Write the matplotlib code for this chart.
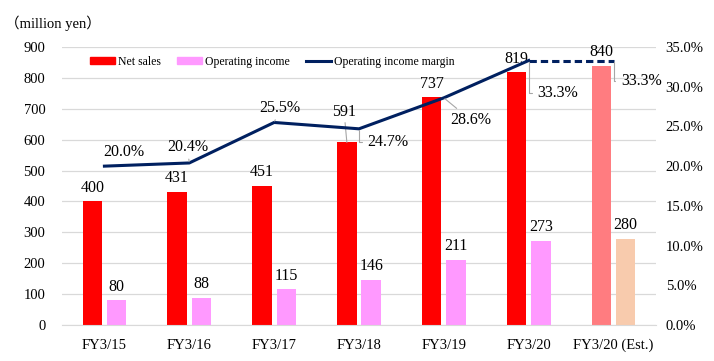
import matplotlib
matplotlib.use("Agg")
import matplotlib.pyplot as plt
from matplotlib.patches import Patch
from matplotlib.lines import Line2D
from matplotlib.ticker import PercentFormatter

# data
categories = ['FY3/15', 'FY3/16', 'FY3/17', 'FY3/18', 'FY3/19', 'FY3/20', 'FY3/20 (Est.)']
net_sales = [400, 431, 451, 591, 737, 819, 840]
op_income = [80, 88, 115, 146, 211, 273, 280]
op_margin = [0.200, 0.204, 0.255, 0.247, 0.286, 0.333, 0.333]
margin_labels = ['20.0%', '20.4%', '25.5%', '24.7%', '28.6%', '33.3%', '33.3%']

plt.rcParams['font.family'] = ['Liberation Serif', 'DejaVu Serif']

RED, PINK = '#FF0000', '#FF99FF'
RED_EST, PINK_EST = '#FF7C80', '#F8CBAD'
NAVY = '#002060'
GRID = '#D9D9D9'
LEADER = '#A6A6A6'

fig = plt.figure(figsize=(7.14, 3.61), dpi=100)
ax = fig.add_axes([62 / 714, 1 - 325 / 361, 594 / 714, 278 / 361])
ax2 = ax.twinx()

x = list(range(len(categories)))
off, w = 0.143, 0.23
ns_colors = [RED] * 6 + [RED_EST]
oi_colors = [PINK] * 6 + [PINK_EST]
ax.bar([i - off for i in x], net_sales, width=w, color=ns_colors, zorder=2)
ax.bar([i + off for i in x], op_income, width=w, color=oi_colors, zorder=2)

ax.set_xlim(-0.5, 6.5)
ax.set_ylim(0, 900)
ax.set_yticks(range(0, 901, 100))
ax.set_xticks(x)
ax.set_xticklabels(categories)
ax.yaxis.grid(True, color=GRID, lw=0.9, zorder=0)
ax.set_axisbelow(True)
for s in ['top', 'left', 'right']:
    ax.spines[s].set_visible(False)
ax.spines['bottom'].set_color(GRID)
ax.tick_params(axis='both', length=0, labelsize=10.5)
ax.tick_params(axis='y', pad=12)
ax.tick_params(axis='x', pad=10)

# net sales / operating income labels
for i in x:
    if i == 3:
        ax.annotate(str(net_sales[i]), (i - off, net_sales[i]), xytext=(-2, 22),
                    textcoords='offset points', ha='center', va='center', fontsize=11.5,
                    arrowprops=dict(arrowstyle='-', color=LEADER, lw=0.8, shrinkA=0, shrinkB=0))
    else:
        ax.annotate(str(net_sales[i]), (i - off, net_sales[i]), xytext=(0, 9.7),
                    textcoords='offset points', ha='center', va='center', fontsize=11.5)
    ax.annotate(str(op_income[i]), (i + off, op_income[i]), xytext=(0, 9.7),
                textcoords='offset points', ha='center', va='center', fontsize=11.5)

# operating income margin line
ax2.plot(x[:6], op_margin[:6], color=NAVY, lw=2.2, zorder=3)
ax2.plot(x[5:], op_margin[5:], color=NAVY, lw=2.2, ls=(0, (2.4, 1.3)), zorder=3)
ax2.set_ylim(0, 0.35)
ax2.set_yticks([i * 0.05 for i in range(8)])
ax2.yaxis.set_major_formatter(PercentFormatter(1.0, decimals=1))
for s in ['top', 'left', 'right', 'bottom']:
    ax2.spines[s].set_visible(False)
ax2.tick_params(axis='y', length=0, labelsize=10.5, pad=7)

offsets = [(13.7, 10), (-1.4, 11.5), (4.4, 10.6), (20.7, -9.5), (19.4, -16), (21, -23.4), (20, -14.8)]
for i in x:
    dx, dy = offsets[i]
    props = None
    if i in (3, 5, 6):
        props = dict(arrowstyle='-', color=LEADER, lw=0.8, shrinkA=2, shrinkB=1,
                     connectionstyle='angle,angleA=0,angleB=90,rad=0')
    elif i in (1, 2, 4):
        props = dict(arrowstyle='-', color=LEADER, lw=0.8, shrinkA=1, shrinkB=1)
    ax2.annotate(margin_labels[i], (i, op_margin[i]), xytext=(dx, dy), textcoords='offset points',
                 ha='center', va='center', fontsize=11.5, arrowprops=props, zorder=4)

handles = [Patch(color=RED), Patch(color=PINK), Line2D([], [], color=NAVY, lw=2.2)]
fig.legend(handles, ['Net sales', 'Operating income', 'Operating income margin'],
           loc='center left', bbox_to_anchor=(90 / 714, 1 - 62 / 361), ncol=3, frameon=False,
           fontsize=8.5, handlelength=2.1, handleheight=0.5, handletextpad=0.3,
           columnspacing=1.35, borderpad=0, borderaxespad=0)

fig.text(5 / 714, 1 - 23 / 361, '（million yen）', fontsize=10.5, va='center', ha='left',
         family=['Liberation Serif', 'Noto Sans CJK JP'])

fig.savefig('out.png', dpi=100)
